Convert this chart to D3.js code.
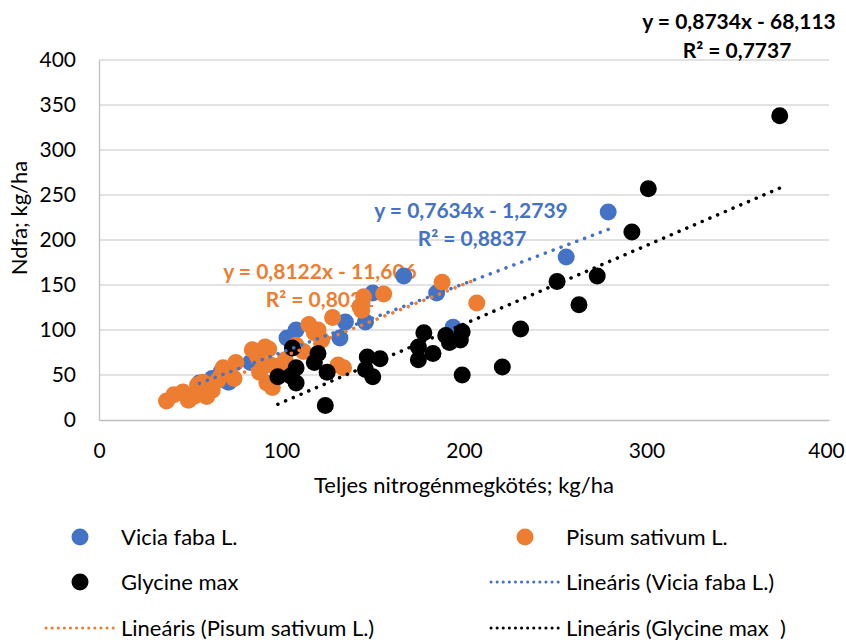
<!DOCTYPE html>
<html lang="hu">
  <meta charset="utf-8" />
  <head>
    <title>Ndfa vs teljes nitrogénmegkötés</title>
    <script src="https://cdn.jsdelivr.net/npm/d3@7/dist/d3.min.js"></script>
    <style>
      body { margin: 0; background: #fff; }
      text { font-family: Lato, "Open Sans", sans-serif; }
    </style>
  </head>
  <body>
  <script>
    // DATA
    var viciaX = [55, 62, 71, 67, 83, 103, 108, 132, 135, 146, 150, 167, 185, 194, 256, 279];
    var viciaY = [41, 46, 42, 54, 64, 91, 100, 91, 109, 109, 141, 160, 141, 103, 181, 231];

    var pisumX = [37, 41, 46, 49, 52, 54, 57, 56, 59, 62, 65, 67, 68, 71, 75, 74, 84, 87, 88, 91, 93, 92, 95,
                  94, 99, 102, 105, 108, 112, 115, 118, 120, 122, 128, 131, 134, 143, 144, 145, 156, 188, 207];
    var pisumY = [21, 28, 31, 22, 26, 39, 42, 33, 26, 33, 44, 50, 58, 52, 64, 46, 78, 70, 53, 81, 79, 41, 36,
                  61, 52, 67, 58, 83, 76, 106, 97, 100, 89, 114, 61, 58, 126, 122, 137, 140, 153, 130];

    var glycineX = [98, 105, 108, 108, 106, 120, 118, 125, 124, 147, 154, 146, 150, 178, 175, 175, 183,
                    190, 192, 199, 198, 199, 221, 231, 251, 263, 273, 292, 301, 373];
    var glycineY = [48, 49, 58, 41, 80, 74, 64, 53, 16, 70, 68, 56, 48, 97, 81, 67, 74,
                    94, 86, 98, 89, 50, 59, 101, 154, 128, 160, 209, 257, 338];

    var xTicks = [0, 100, 200, 300, 400];
    var yTicks = [0, 50, 100, 150, 200, 250, 300, 350, 400];

    var fits = [
      {name: "Vicia faba L.", slope: 0.7634, icpt: -1.2739, eq: "y = 0,7634x - 1,2739", r2: "R² = 0,8837"},
      {name: "Pisum sativum L.", slope: 0.8122, icpt: -11.606, eq: "y = 0,8122x - 11,606", r2: "R² = 0,8021"},
      {name: "Glycine max", slope: 0.8734, icpt: -68.113, eq: "y = 0,8734x - 68,113", r2: "R² = 0,7737"}
    ];

    // CONFIG
    var width = 846, height = 640;
    var margin = {left: 99, right: 17, top: 60, bottom: 220};
    var colors = ["#4472C4", "#ED7D31", "#000000"];
    var dotR = 8.5;
    var fontSize = "22px";
    var tickSize = "21px";

    var series = [
      {name: "Vicia faba L.", xs: viciaX, ys: viciaY},
      {name: "Pisum sativum L.", xs: pisumX, ys: pisumY},
      {name: "Glycine max", xs: glycineX, ys: glycineY}
    ];
    series.forEach(function (s, i) {
      s.color = colors[i];
      s.fit = fits[i];
      s.points = s.xs.map((x, j) => ({x: x, y: s.ys[j]}));
    });

    var x = d3.scaleLinear().domain([0, 400]).range([margin.left, width - margin.right]);
    var y = d3.scaleLinear().domain([0, 400]).range([height - margin.bottom, margin.top]);

    var svg = d3.select("body").append("svg")
        .attr("width", width)
        .attr("height", height);

    // gridlines
    svg.append("g")
      .selectAll("line")
      .data(yTicks.filter((t) => t > 0))
      .enter().append("line")
        .attr("x1", x(0)).attr("x2", x(400))
        .attr("y1", (t) => y(t)).attr("y2", (t) => y(t))
        .attr("stroke", "#d9d9d9").attr("stroke-width", 1.3);

    // axes
    var yAxis = svg.append("g")
      .attr("transform", `translate(${x(0)},0)`)
      .call(d3.axisLeft(y).tickValues(yTicks).tickSize(0).tickPadding(23));
    var xAxis = svg.append("g")
      .attr("transform", `translate(0,${y(0)})`)
      .call(d3.axisBottom(x).tickValues(xTicks).tickSize(0).tickPadding(23));
    [xAxis, yAxis].forEach(function (a) {
      a.select(".domain").attr("stroke", "#bfbfbf").attr("stroke-width", 1.3);
      a.selectAll("text").style("font-size", tickSize).style("font-family", "Lato, sans-serif").style("fill", "#000");
    });
    // last x label is pulled in a bit so it stays inside the frame
    xAxis.selectAll(".tick text").filter((t) => t === 400).attr("x", -3);

    svg.append("text")
      .attr("x", (x(0) + x(400)) / 2)
      .attr("y", 493)
      .attr("text-anchor", "middle")
      .style("font-size", fontSize)
      .text("Teljes nitrogénmegkötés; kg/ha");

    svg.append("text")
      .attr("transform", "translate(27,218) rotate(-90)")
      .attr("text-anchor", "middle")
      .style("font-size", fontSize)
      .text("Ndfa; kg/ha");

    // trendline labels (drawn under the markers)
    var labelPos = [
      {x1: 471, y1: 218, x2: 472, y2: 246},
      {x1: 320, y1: 279, x2: 320, y2: 307},
      {x1: 739, y1: 29, x2: 737, y2: 58}
    ];
    series.forEach(function (s, i) {
      var p = labelPos[i];
      svg.append("text").attr("x", p.x1).attr("y", p.y1)
        .attr("text-anchor", "middle").attr("font-weight", "bold")
        .style("font-size", "21px").style("fill", s.color).text(s.fit.eq);
      svg.append("text").attr("x", p.x2).attr("y", p.y2)
        .attr("text-anchor", "middle").attr("font-weight", "bold")
        .style("font-size", "21px").style("fill", s.color).text(s.fit.r2);
    });

    // markers
    series.forEach(function (s) {
      svg.append("g")
        .selectAll("circle")
        .data(s.points)
        .enter().append("circle")
          .attr("cx", (d) => x(d.x))
          .attr("cy", (d) => y(d.y))
          .attr("r", dotR)
          .attr("fill", s.color);
    });

    // linear trendlines, from min x to max x of each series
    var line = d3.line().x((d) => x(d[0])).y((d) => y(d[1]));
    series.forEach(function (s) {
      var ext = d3.extent(s.xs);
      svg.append("path")
        .attr("d", line(ext.map((v) => [v, s.fit.slope * v + s.fit.icpt])))
        .attr("fill", "none")
        .attr("stroke", s.color)
        .attr("stroke-width", 3.5)
        .attr("stroke-linecap", "round")
        .attr("stroke-dasharray", "0.1 8.3");
    });

    // legend
    var legendItems = [
      {label: "Vicia faba L.", color: colors[0], type: "dot", cx: 80, cy: 537},
      {label: "Pisum sativum L.", color: colors[1], type: "dot", cx: 525, cy: 537},
      {label: "Glycine max", color: colors[2], type: "dot", cx: 80, cy: 582},
      {label: "Lineáris (Vicia faba L.)", color: colors[0], type: "line", cx: 525, cy: 582},
      {label: "Lineáris (Pisum sativum L.)", color: colors[1], type: "line", cx: 80, cy: 628},
      {label: "Lineáris (Glycine max  )", color: colors[2], type: "line", cx: 525, cy: 628}
    ];
    var lg = svg.append("g").selectAll("g")
      .data(legendItems)
      .enter().append("g")
        .attr("transform", (d) => `translate(${d.cx},${d.cy})`);
    lg.filter((d) => d.type === "dot").append("circle")
      .attr("r", 8.5).attr("fill", (d) => d.color);
    lg.filter((d) => d.type === "line").append("line")
      .attr("x1", -34).attr("x2", 36)
      .attr("stroke", (d) => d.color)
      .attr("stroke-width", 3)
      .attr("stroke-linecap", "round")
      .attr("stroke-dasharray", "0.1 6");
    lg.append("text")
      .attr("x", 41)
      .attr("dy", "0.35em")
      .style("font-size", fontSize)
      .style("fill", "#000")
      .text((d) => d.label.replace(/  /g, "\u00a0 "));
  </script>
  </body>
</html>
